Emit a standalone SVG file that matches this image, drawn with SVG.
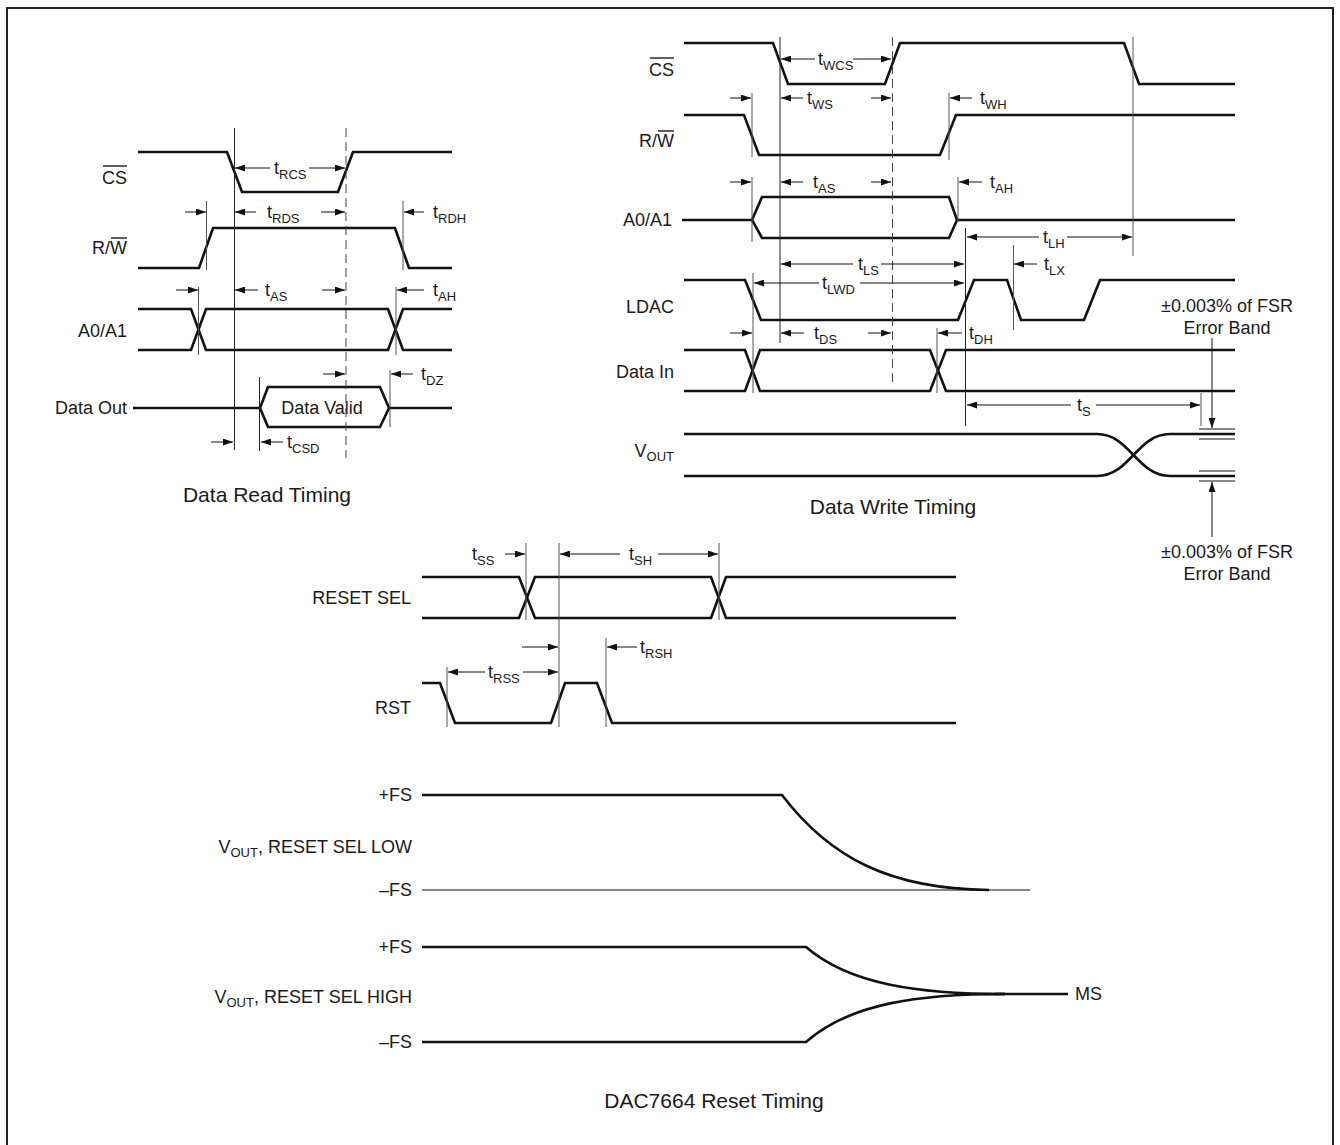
<svg xmlns="http://www.w3.org/2000/svg" width="1340" height="1145" viewBox="0 0 1340 1145">
<style>
.sig{fill:none;stroke:#111;stroke-width:2.6;stroke-linejoin:miter}
.ref{stroke:#222;stroke-width:1}
.refg{stroke:#555;stroke-width:1}
.dash{stroke:#444;stroke-width:1;stroke-dasharray:9 5}
.arr{stroke:#111;stroke-width:1;marker-end:url(#ah)}
.thin{fill:none;stroke:#111;stroke-width:1.2}
text{font-family:"Liberation Sans",Arial,Helvetica,sans-serif;fill:#1a1a1a}
.lbl{font-size:18px;text-anchor:end}
.t{font-size:18px}
.sub{font-size:13px}
.cap{font-size:21px;text-anchor:middle}
.mid{font-size:18px;text-anchor:middle}
.ovl{stroke:#1a1a1a;stroke-width:1.4}
</style>
<defs>
<marker id="ah" markerUnits="userSpaceOnUse" markerWidth="10" markerHeight="7" refX="10" refY="3.5" orient="auto">
<path d="M0,0 L10,3.5 L0,7 z" fill="#111"/>
</marker>
</defs>
<rect id="frame" x="7" y="8" width="1326" height="1160" fill="#fff" stroke="#222" stroke-width="2"/>

<!-- ================= DATA READ TIMING ================= -->
<g id="read-cs">
<text class="lbl" x="127" y="184">CS</text>
<line class="ovl" x1="103" y1="166" x2="127" y2="166"/>
<polyline class="sig" points="138,152 227,152 242,192 338,192 353,152 452,152"/>
</g>
<g id="read-rw">
<text class="lbl" x="127" y="254">R/W</text>
<line class="ovl" x1="111" y1="238" x2="127" y2="238"/>
<polyline class="sig" points="138,268 199,268 213,228 395,228 409,268 452,268"/>
</g>
<g id="read-a0a1">
<text class="lbl" x="127" y="337">A0/A1</text>
<polyline class="sig" points="138,309 191,309 206,350 388,350 403,309 452,309"/>
<polyline class="sig" points="138,350 191,350 206,309 388,309 403,350 452,350"/>
</g>
<g id="read-dataout">
<text class="lbl" x="127" y="414">Data Out</text>
<line class="sig" x1="133" y1="408" x2="260" y2="408"/>
<polygon class="sig" points="260,408 268,387 380,387 389,408 380,427 268,427"/>
<line class="sig" x1="389" y1="408" x2="452" y2="408"/>
<text class="mid" x="322" y="414">Data Valid</text>
</g>
<g id="read-timing">
<line class="ref" x1="234.5" y1="128" x2="234.5" y2="450"/>
<line class="dash" x1="346" y1="128" x2="346" y2="458"/>
<line class="refg" x1="206.5" y1="201" x2="206.5" y2="270"/>
<line class="refg" x1="403" y1="201" x2="403" y2="270"/>
<line class="refg" x1="198.5" y1="287" x2="198.5" y2="355"/>
<line class="refg" x1="396" y1="287" x2="396" y2="355"/>
<line class="ref" x1="259.5" y1="377" x2="259.5" y2="451"/>
<line class="refg" x1="390" y1="370" x2="390" y2="427"/>
<text class="t" x="274" y="174">t<tspan class="sub" dy="5">RCS</tspan></text>
<text class="t" x="267" y="218">t<tspan class="sub" dy="5">RDS</tspan></text>
<text class="t" x="433" y="218">t<tspan class="sub" dy="5">RDH</tspan></text>
<text class="t" x="265" y="296">t<tspan class="sub" dy="5">AS</tspan></text>
<text class="t" x="433" y="296">t<tspan class="sub" dy="5">AH</tspan></text>
<text class="t" x="421" y="380">t<tspan class="sub" dy="5">DZ</tspan></text>
<text class="t" x="287" y="448">t<tspan class="sub" dy="5">CSD</tspan></text>
<text class="cap" x="267" y="502">Data Read Timing</text>
</g>

<!-- ================= DATA WRITE TIMING ================= -->
<g id="write-cs">
<text class="lbl" x="674" y="76">CS</text>
<line class="ovl" x1="650" y1="58" x2="674" y2="58"/>
<polyline class="sig" points="684,43 773,43 788,84 885,84 900,43 1124,43 1139,84 1235,84"/>
</g>
<g id="write-rw">
<text class="lbl" x="674" y="147">R/W</text>
<line class="ovl" x1="658" y1="131" x2="674" y2="131"/>
<polyline class="sig" points="684,115 744,115 759,155 940,155 956,115 1235,115"/>
</g>
<g id="write-a0a1">
<text class="lbl" x="672" y="226">A0/A1</text>
<line class="sig" x1="682" y1="220" x2="752" y2="220"/>
<polygon class="sig" points="752,220 762,197 949,197 957,220 949,238 762,238"/>
<line class="sig" x1="957" y1="220" x2="1235" y2="220"/>
</g>
<g id="write-ldac">
<text class="lbl" x="674" y="313">LDAC</text>
<polyline class="sig" points="684,280 745,280 761,320 958,320 974,280 1007,280 1021,320 1084,320 1100,280 1235,280"/>
</g>
<g id="write-datain">
<text class="lbl" x="674" y="378">Data In</text>
<polyline class="sig" points="684,350 745,350 760,391 930,391 946,350 1235,350"/>
<polyline class="sig" points="684,391 745,391 760,350 930,350 946,391 1235,391"/>
</g>
<g id="write-vout">
<text class="lbl" x="674" y="457">V<tspan class="sub" dy="4">OUT</tspan></text>
<path class="sig" d="M684,434 L1097,434 C1130,434 1137,476 1170,476 L1235,476"/>
<path class="sig" d="M684,476 L1097,476 C1130,476 1137,434 1170,434 L1235,434"/>
<line class="thin" x1="1199" y1="429" x2="1235" y2="429"/>
<line class="thin" x1="1199" y1="439" x2="1235" y2="439"/>
<line class="thin" x1="1199" y1="471" x2="1235" y2="471"/>
<line class="thin" x1="1199" y1="481" x2="1235" y2="481"/>
</g>
<g id="write-errorband">
<text class="mid" x="1227" y="312">±0.003% of FSR</text>
<text class="mid" x="1227" y="334">Error Band</text>
<text class="mid" x="1227" y="558">±0.003% of FSR</text>
<text class="mid" x="1227" y="580">Error Band</text>
</g>
<g id="write-timing">
<line class="ref" x1="780" y1="37" x2="780" y2="343"/>
<line class="dash" x1="892.5" y1="37" x2="892.5" y2="383"/>
<line class="refg" x1="1133" y1="37" x2="1133" y2="256"/>
<line class="refg" x1="752" y1="93" x2="752" y2="157"/>
<line class="refg" x1="949" y1="93" x2="949" y2="160"/>
<line class="refg" x1="752" y1="177" x2="752" y2="242"/>
<line class="refg" x1="958" y1="177" x2="958" y2="222"/>
<line class="ref" x1="965.5" y1="228" x2="965.5" y2="426"/>
<line class="refg" x1="1013.5" y1="245" x2="1013.5" y2="330"/>
<line class="refg" x1="753" y1="273" x2="753" y2="393"/>
<line class="refg" x1="937" y1="328" x2="937" y2="393"/>
<line class="refg" x1="1201" y1="393" x2="1201" y2="426"/>
<text class="t" x="818" y="65">t<tspan class="sub" dy="5">WCS</tspan></text>
<text class="t" x="807" y="104">t<tspan class="sub" dy="5">WS</tspan></text>
<text class="t" x="980" y="104">t<tspan class="sub" dy="5">WH</tspan></text>
<text class="t" x="813" y="188">t<tspan class="sub" dy="5">AS</tspan></text>
<text class="t" x="990" y="188">t<tspan class="sub" dy="5">AH</tspan></text>
<text class="t" x="1043" y="243">t<tspan class="sub" dy="5">LH</tspan></text>
<text class="t" x="858" y="270">t<tspan class="sub" dy="5">LS</tspan></text>
<text class="t" x="822" y="289">t<tspan class="sub" dy="5">LWD</tspan></text>
<text class="t" x="1044" y="270">t<tspan class="sub" dy="5">LX</tspan></text>
<text class="t" x="814" y="339">t<tspan class="sub" dy="5">DS</tspan></text>
<text class="t" x="969" y="339">t<tspan class="sub" dy="5">DH</tspan></text>
<text class="t" x="1077" y="411">t<tspan class="sub" dy="5">S</tspan></text>
<text class="cap" x="893" y="514">Data Write Timing</text>
</g>

<!-- ================= RESET TIMING ================= -->
<g id="reset-sel">
<text class="lbl" x="411" y="604">RESET SEL</text>
<polyline class="sig" points="422,577 519,577 535,618 711,618 726,577 956,577"/>
<polyline class="sig" points="422,618 519,618 535,577 711,577 726,618 956,618"/>
</g>
<g id="reset-rst">
<text class="lbl" x="411" y="714">RST</text>
<polyline class="sig" points="422,683 440,683 455,723 551,723 565,683 597,683 612,723 956,723"/>
</g>
<g id="reset-timing">
<line class="refg" x1="526" y1="543" x2="526" y2="620"/>
<line class="refg" x1="559" y1="543" x2="559" y2="727"/>
<line class="refg" x1="719" y1="543" x2="719" y2="620"/>
<line class="refg" x1="447" y1="667" x2="447" y2="727"/>
<line class="refg" x1="606" y1="638" x2="606" y2="727"/>
<text class="t" x="472" y="560">t<tspan class="sub" dy="5">SS</tspan></text>
<text class="t" x="629" y="560">t<tspan class="sub" dy="5">SH</tspan></text>
<text class="t" x="488" y="678">t<tspan class="sub" dy="5">RSS</tspan></text>
<text class="t" x="640" y="653">t<tspan class="sub" dy="5">RSH</tspan></text>
</g>
<g id="vout-low">
<text class="lbl" x="412" y="801">+FS</text>
<text class="lbl" x="412" y="853">V<tspan class="sub" dy="4">OUT</tspan><tspan dy="-4">, RESET SEL LOW</tspan></text>
<text class="lbl" x="412" y="896">–FS</text>
<path class="sig" d="M422,795 L782,795 C830,858 890,889 989,890"/>
<line class="thin" x1="422" y1="890" x2="1030" y2="890"/>
</g>
<g id="vout-high">
<text class="lbl" x="412" y="953">+FS</text>
<text class="lbl" x="412" y="1003">V<tspan class="sub" dy="4">OUT</tspan><tspan dy="-4">, RESET SEL HIGH</tspan></text>
<text class="lbl" x="412" y="1048">–FS</text>
<path class="sig" d="M422,947 L806,947 C850,985 920,994 1005,994"/>
<path class="sig" d="M422,1042 L806,1042 C850,1003 920,994 1005,994"/>
<line class="sig" x1="995" y1="994" x2="1068" y2="994"/>
<text class="t" x="1075" y="1000">MS</text>
<text class="cap" x="714" y="1108">DAC7664 Reset Timing</text>
</g>

<!-- ================= CONNECTORS (dimension arrows) ================= -->
<g id="connectors">
<line class="arr" x1="270" y1="168" x2="235" y2="168"/>
<line class="arr" x1="309" y1="168" x2="345" y2="168"/>
<line class="arr" x1="185" y1="212" x2="206" y2="212"/>
<line class="arr" x1="256" y1="212" x2="235" y2="212"/>
<line class="arr" x1="321" y1="212" x2="345" y2="212"/>
<line class="arr" x1="424" y1="212" x2="404" y2="212"/>
<line class="arr" x1="176" y1="290" x2="198" y2="290"/>
<line class="arr" x1="258" y1="290" x2="235" y2="290"/>
<line class="arr" x1="322" y1="290" x2="345" y2="290"/>
<line class="arr" x1="424" y1="290" x2="397" y2="290"/>
<line class="arr" x1="323" y1="374" x2="345" y2="374"/>
<line class="arr" x1="413" y1="374" x2="391" y2="374"/>
<line class="arr" x1="211" y1="442" x2="233" y2="442"/>
<line class="arr" x1="283" y1="442" x2="261" y2="442"/>

<line class="arr" x1="815" y1="59" x2="781" y2="59"/>
<line class="arr" x1="853" y1="59" x2="891" y2="59"/>
<line class="arr" x1="730" y1="98" x2="751" y2="98"/>
<line class="arr" x1="803" y1="98" x2="781" y2="98"/>
<line class="arr" x1="871" y1="98" x2="891" y2="98"/>
<line class="arr" x1="972" y1="98" x2="950" y2="98"/>
<line class="arr" x1="730" y1="182" x2="751" y2="182"/>
<line class="arr" x1="803" y1="182" x2="781" y2="182"/>
<line class="arr" x1="871" y1="182" x2="891" y2="182"/>
<line class="arr" x1="982" y1="182" x2="959" y2="182"/>
<line class="arr" x1="1039" y1="237" x2="967" y2="237"/>
<line class="arr" x1="1067" y1="237" x2="1132" y2="237"/>
<line class="arr" x1="853" y1="264" x2="781" y2="264"/>
<line class="arr" x1="881" y1="264" x2="964" y2="264"/>
<line class="arr" x1="1037" y1="264" x2="1014" y2="264"/>
<line class="arr" x1="819" y1="283" x2="754" y2="283"/>
<line class="arr" x1="860" y1="283" x2="964" y2="283"/>
<line class="arr" x1="730" y1="333" x2="752" y2="333"/>
<line class="arr" x1="804" y1="333" x2="781" y2="333"/>
<line class="arr" x1="868" y1="333" x2="891" y2="333"/>
<line class="arr" x1="962" y1="333" x2="938" y2="333"/>
<line class="arr" x1="1071" y1="405" x2="967" y2="405"/>
<line class="arr" x1="1096" y1="405" x2="1200" y2="405"/>
<line class="arr" x1="1212" y1="338" x2="1212" y2="428"/>
<line class="arr" x1="1212" y1="537" x2="1212" y2="482"/>

<line class="arr" x1="505" y1="554" x2="525" y2="554"/>
<line class="arr" x1="620" y1="554" x2="560" y2="554"/>
<line class="arr" x1="658" y1="554" x2="718" y2="554"/>
<line class="arr" x1="485" y1="672" x2="448" y2="672"/>
<line class="arr" x1="523" y1="672" x2="558" y2="672"/>
<line class="arr" x1="522" y1="647" x2="558" y2="647"/>
<line class="arr" x1="637" y1="647" x2="607" y2="647"/>
</g>
</svg>
